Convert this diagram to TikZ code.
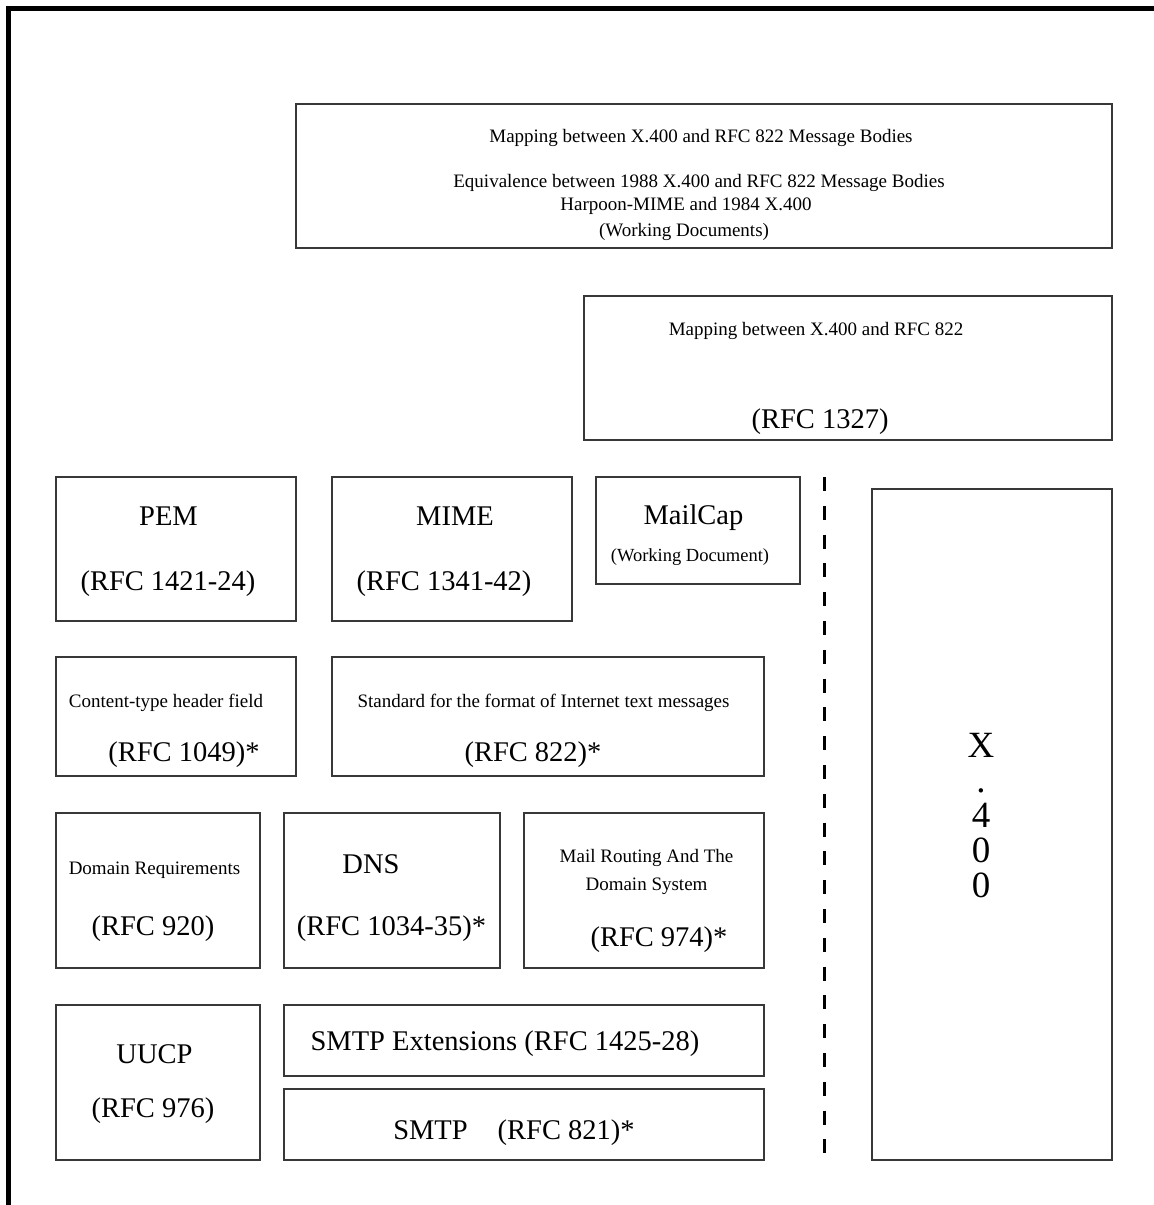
\documentclass[tikz,border=0pt]{standalone}
\usepackage{fontspec}
\setmainfont{Liberation Serif}
\begin{document}
\begin{tikzpicture}[x=1pt,y=-1pt,
  box/.style={draw=black!78, line width=1.3pt, inner sep=0pt, outer sep=0pt, anchor=north west},
  lbl/.style={inner sep=0pt, anchor=base},
  sm/.style={lbl, font=\fontsize{19}{22}\selectfont},
  md/.style={lbl, font=\fontsize{18.5}{22}\selectfont},
  lgb/.style={lbl, font=\fontsize{28.5}{32}\selectfont},
  xl/.style={inner sep=0pt, anchor=north, align=center, font=\fontsize{37}{35}\selectfont},
  frame/.style={line width=5pt, line join=miter},
  divider/.style={line width=3pt, dash pattern=on 14pt off 14.8pt}
]
\useasboundingbox (0,0) rectangle (1154,1205);

% frame (top and left)
\coordinate (fbl) at (8,1205);
\coordinate (ftl) at (8,8.5);
\coordinate (ftr) at (1154,8.5);
\draw[frame] (fbl) -- (ftl) -- (ftr);

% dashed divider
\coordinate (d1) at (824,477);
\coordinate (d2) at (824,1153);
\draw[divider] (d1) -- (d2);

% boxes
\node[box, minimum width=816pt, minimum height=144pt] (bodies) at (296,104) {};
\node[box, minimum width=528pt, minimum height=144pt] (rfc1327) at (584,296) {};
\node[box, minimum width=240pt, minimum height=144pt] (pem) at (56,477) {};
\node[box, minimum width=240pt, minimum height=144pt] (mime) at (332,477) {};
\node[box, minimum width=204pt, minimum height=107pt] (mailcap) at (596,477) {};
\node[box, minimum width=240pt, minimum height=119pt] (ctype) at (56,657) {};
\node[box, minimum width=432pt, minimum height=119pt] (rfc822) at (332,657) {};
\node[box, minimum width=204pt, minimum height=155pt] (domreq) at (56,813) {};
\node[box, minimum width=216pt, minimum height=155pt] (dns) at (284,813) {};
\node[box, minimum width=240pt, minimum height=155pt] (mailrt) at (524,813) {};
\node[box, minimum width=204pt, minimum height=155pt] (uucp) at (56,1005) {};
\node[box, minimum width=480pt, minimum height=71pt] (smtpext) at (284,1005) {};
\node[box, minimum width=480pt, minimum height=71pt] (smtp) at (284,1089) {};
\node[box, minimum width=240pt, minimum height=671pt] (x400) at (872,489) {};

% texts
\node[sm] (t1) at (701,142.3) {Mapping between X.400 and RFC 822 Message Bodies};
\node[sm] (t2) at (699,187.3) {Equivalence between 1988 X.400 and RFC 822 Message Bodies};
\node[sm] (t3) at (686,210.3) {Harpoon-MIME and 1984 X.400};
\node[sm] (t4) at (684,236.3) {(Working Documents)};

\node[sm] (r1) at (816,335.3) {Mapping between X.400 and RFC 822};
\node[lgb] (r2) at (820,428.4) {(RFC 1327)};

\node[lgb] (pem1) at (168.5,525.2) {PEM};
\node[lgb] (pem2) at (168,590.8) {(RFC 1421-24)};
\node[lgb] (mime1) at (455,525.2) {MIME};
\node[lgb] (mime2) at (444,590.8) {(RFC 1341-42)};
\node[lgb] (mc1) at (693.5,524.5) {MailCap};
\node[md] (mc2) at (690,561.1) {(Working Document)};

\node[sm] (ct1) at (166,707.3) {Content-type header field};
\node[lgb] (ct2) at (184,761.4) {(RFC 1049)*};
\node[sm] (std1) at (543.5,707.3) {Standard for the format of Internet text messages};
\node[lgb] (std2) at (533,761.4) {(RFC 822)*};

\node[sm] (dr1) at (154.5,874.3) {Domain Requirements};
\node[lgb] (dr2) at (153,935.4) {(RFC 920)};
\node[lgb] (dns1) at (371,873.4) {DNS};
\node[lgb] (dns2) at (391.5,935.4) {(RFC 1034-35)*};
\node[sm] (mr1) at (646.5,862.3) {Mail Routing And The};
\node[sm] (mr2) at (646.5,890.3) {Domain System};
\node[lgb] (mr3) at (659,946.4) {(RFC 974)*};

\node[lgb] (uu1) at (154.5,1063.4) {UUCP};
\node[lgb] (uu2) at (153,1117.4) {(RFC 976)};
\node[lgb] (se) at (505,1050) {SMTP Extensions (RFC 1425-28)};
\node[lgb] (sm1) at (514,1139) {SMTP\hspace{30pt}(RFC 821)*};

\node[xl] (xlabel) at (981,732.6) {X\\.\\4\\0\\0};
\end{tikzpicture}
\end{document}
